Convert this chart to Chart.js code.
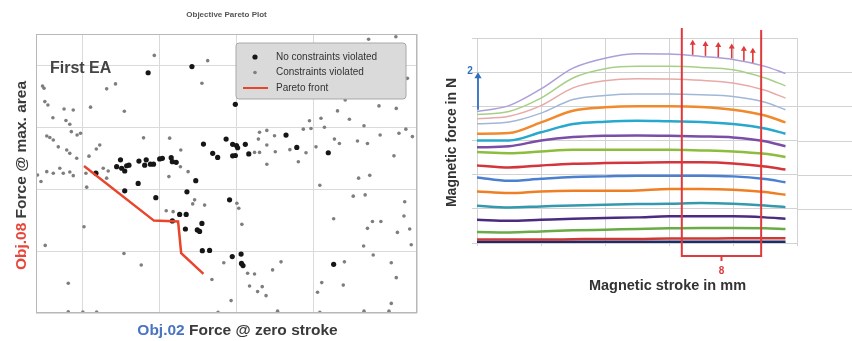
<!DOCTYPE html>
<html>
<head>
<meta charset="utf-8">
<script src="https://cdn.jsdelivr.net/npm/chart.js@4.4.1/dist/chart.umd.min.js"></script>
<style>
html, body { margin: 0; padding: 0; background: #fff; }
#wrap { position: relative; width: 852px; height: 341px; overflow: hidden; }
#left { position: absolute; left: 0; top: 0; }
#right { position: absolute; left: 430px; top: 0; }
</style>
</head>
<body>
<div id="wrap">
  <canvas id="left" width="430" height="341"></canvas>
  <canvas id="right" width="422" height="341"></canvas>
</div>
<script>
// ---- left: objective pareto plot ----
const okX = [37.0, 48.4, 59.7, 51.4, 57.3, 59.0, 60.0, 60.3, 62.3, 53.8, 55.1, 59.0, 59.7, 63.2, 72.9, 75.7, 83.9, 85.3, 23.4,
  29.8, 28.8, 30.1, 30.9, 31.4, 32.0, 34.6, 36.5, 36.1, 37.6, 38.4, 40.0, 40.7, 43.0, 43.3, 44.3, 34.4, 30.9, 39.0, 47.1, 49.4,
  45.2, 46.9, 43.3, 46.7, 49.8, 50.4, 51.0, 51.1, 53.0, 58.2, 58.9, 61.2, 61.3, 61.7];
const okY = [77.5, 79.5, 67.3, 54.5, 56.1, 54.4, 54.0, 53.3, 54.4, 51.5, 50.2, 50.7, 50.8, 51.3, 57.4, 53.4, 51.7, 15.7, 45.1,
  49.4, 47.2, 46.7, 45.8, 47.5, 47.7, 49.0, 49.4, 47.7, 48.0, 48.0, 49.7, 49.9, 50.1, 48.8, 48.6, 41.8, 39.4, 37.2, 39.1, 42.7,
  31.8, 31.8, 29.7, 27.1, 26.8, 26.3, 28.9, 20.1, 20.2, 36.5, 18.2, 19.0, 16.0, 15.3];

const violX = [9.5, 9.9, 10.1, 10.9, 12.2, 15.1, 17.5, 15.6, 16.6, 17.0, 18.5, 19.4, 22.0, 26.2, 28.5, 30.8, 38.6, 52.5, 51.0,
  10.6, 11.4, 12.3, 13.6, 15.8, 16.6, 18.4, 21.6, 24.4, 35.8, 42.6, 8.2, 10.6, 12.3, 14.0, 14.9, 16.6, 17.5, 9.1, 21.0, 20.3,
  10.2, 16.2, 16.2, 20.0, 23.6, 30.7, 35.2, 25.3, 26.6, 41.7, 43.5, 45.4, 42.4, 48.6, 51.7, 49.1, 60.1, 60.6, 61.4, 53.6,
  56.7, 58.6, 55.2, 62.9, 64.7, 63.4, 66.7, 65.5, 67.7, 69.4, 71.6, 70.7, 81.7, 81.1, 82.2, 87.8, 88.1, 85.3, 93.2, 99.7,
  100.3, 101.6, 100.3, 95.6, 93.1, 94.1, 95.4, 97.6, 101.9, 103.6, 105.1, 105.5, 103.8, 90.4, 93.5, 91.8, 94.7, 81.7, 101.0,
  94.4, 101.5, 104.5, 88.3, 97.1, 101.6, 86.3, 89.4, 82.0, 79.0, 93.2, 82.9, 79.4, 77.4, 104.1, 102.3, 105.8, 97.4, 85.5,
  86.8, 91.5, 94.1, 80.7, 78.1, 66.0, 67.9, 69.9, 65.7, 67.9, 70.1, 73.9, 67.9, 76.1, 64.7, 66.0, 20.8, 23.5, 45.5, 47.4, 26.2];
const violY = [73.2, 72.5, 68.2, 67.1, 63.0, 65.8, 65.5, 62.1, 60.9, 58.5, 57.4, 58.0, 66.4, 72.3, 73.9, 65.1, 83.1, 81.4, 74.1,
  57.1, 56.6, 55.8, 53.6, 52.6, 51.5, 49.9, 50.6, 54.2, 56.5, 56.4, 44.5, 45.6, 45.1, 46.7, 45.1, 45.5, 44.3, 42.4, 40.6, 27.8,
  21.8, 9.6, 0.4, 0.3, 0.3, 19.2, 15.5, 46.7, 45.8, 33.0, 32.7, 47.2, 44.0, 35.2, 34.8, 36.5, 35.4, 33.8, 28.6, 10.8,
  16.2, 4.0, 0.2, 12.8, 12.6, 8.7, 8.5, 6.9, 5.6, 13.9, 16.5, 0.6, 0.2, 6.7, 9.8, 9.0, 16.5, 30.4, 0.6, 0.6,
  3.1, 11.4, 16.2, 18.7, 21.6, 27.3, 29.5, 29.5, 26.0, 31.3, 27.1, 22.0, 35.9, 37.7, 38.1, 43.5, 44.4, 41.2, 50.7,
  88.3, 89.1, 75.7, 68.7, 66.8, 66.0, 65.2, 62.5, 62.8, 62.0, 60.4, 59.9, 59.5, 59.3, 59.3, 58.0, 56.9, 57.4, 56.1,
  54.7, 55.5, 54.7, 53.6, 51.7, 58.3, 58.9, 57.2, 56.1, 54.2, 52.0, 52.7, 48.0, 48.8, 51.8, 51.8, 45.1, 52.9, 52.6, 45.6, 43.5];

const paretoX = [20.3, 38.5, 44.8, 45.6, 51.4];
const paretoY = [47.4, 29.8, 29.5, 19.3, 12.6];

// ---- right: force over stroke ----
const strokeX = [0, 0.5, 1, 1.5, 2, 2.5, 3, 3.5, 4, 4.5, 4.82];
const forceCurves = [
  [3.85, 4.02, 4.51, 5.12, 5.41, 5.54, 5.53, 5.46, 5.37, 5.17, 4.96],
  [3.76, 3.85, 4.24, 4.83, 5.10, 5.17, 5.17, 5.14, 5.07, 4.83, 4.60],
  [3.64, 3.71, 4.02, 4.54, 4.75, 4.81, 4.80, 4.76, 4.68, 4.47, 4.24],
  [3.49, 3.54, 3.80, 4.20, 4.32, 4.36, 4.36, 4.34, 4.29, 4.12, 3.90],
  [3.20, 3.22, 3.53, 3.87, 3.97, 4.00, 4.00, 3.98, 3.90, 3.73, 3.53],
  [3.00, 3.00, 3.24, 3.48, 3.55, 3.58, 3.56, 3.54, 3.48, 3.35, 3.20],
  [2.80, 2.83, 3.00, 3.10, 3.14, 3.15, 3.14, 3.12, 3.09, 2.98, 2.83],
  [2.66, 2.63, 2.68, 2.73, 2.73, 2.73, 2.73, 2.71, 2.68, 2.61, 2.52],
  [2.27, 2.21, 2.27, 2.32, 2.34, 2.35, 2.36, 2.36, 2.33, 2.24, 2.15],
  [1.92, 1.82, 1.88, 1.93, 1.95, 1.97, 1.97, 1.97, 1.95, 1.87, 1.78],
  [1.51, 1.46, 1.51, 1.53, 1.53, 1.54, 1.58, 1.58, 1.56, 1.49, 1.41],
  [1.09, 1.04, 1.07, 1.10, 1.12, 1.14, 1.15, 1.17, 1.15, 1.10, 1.05],
  [0.68, 0.65, 0.68, 0.71, 0.73, 0.75, 0.78, 0.78, 0.78, 0.75, 0.71],
  [0.32, 0.31, 0.34, 0.37, 0.39, 0.41, 0.43, 0.44, 0.44, 0.43, 0.41],
  [0.10, 0.10, 0.10, 0.11, 0.12, 0.12, 0.13, 0.13, 0.14, 0.14, 0.14],
  [0.04, 0.04, 0.04, 0.04, 0.04, 0.04, 0.04, 0.04, 0.04, 0.04, 0.04],
  [0.00, 0.00, 0.00, 0.00, 0.00, 0.00, 0.00, 0.00, 0.00, 0.00, 0.00]
];
const curveColors = ['#ab9fd8', '#a8cf86', '#e8a9a9', '#a2b7d6', '#f08a2c', '#27a8cc', '#7a4ea6', '#8cbd3c',
  '#d2353a', '#4a80cf', '#ee7f24', '#3599ad', '#4a2b80', '#6aab45', '#cc3a36', '#1f2a68', '#5b9be0'];
const curveWidths = [1.5, 1.5, 1.5, 1.5, 2.5, 2.5, 2.5, 2.5, 2.5, 2.5, 2.5, 2.5, 2.5, 2.5, 2.5, 2.5, 2];
const arrowX = [3.37, 3.57, 3.77, 3.98, 4.17, 4.31];

const FONT = '"Liberation Sans", Arial, sans-serif';

function drawMixed(ctx, parts, cx, cy, rotate) {
  ctx.save();
  ctx.translate(cx, cy);
  if (rotate) ctx.rotate(-Math.PI / 2);
  ctx.textBaseline = 'middle';
  ctx.textAlign = 'left';
  const total = parts.reduce((s, p) => s + ctx.measureText(p[0]).width, 0);
  let x = -total / 2;
  parts.forEach(p => {
    ctx.fillStyle = p[1];
    ctx.fillText(p[0], x, 0);
    x += ctx.measureText(p[0]).width;
  });
  ctx.restore();
}

const paretoOverlay = {
  id: 'paretoOverlay',
  afterDraw(chart) {
    const { ctx, chartArea: a } = chart;
    ctx.save();
    ctx.strokeStyle = '#b8b8b8';
    ctx.lineWidth = 1;
    ctx.strokeRect(a.left + 0.5, a.top + 0.5, a.width - 1, a.height - 1);

    ctx.fillStyle = '#555';
    ctx.font = 'bold 8px ' + FONT;
    ctx.textAlign = 'center';
    ctx.textBaseline = 'middle';
    ctx.fillText('Objective Pareto Plot', (a.left + a.right) / 2, a.top - 19);

    ctx.fillStyle = '#444';
    ctx.font = 'bold 16px ' + FONT;
    ctx.textAlign = 'left';
    ctx.fillText('First EA', a.left + 14, a.top + 35);

    ctx.font = 'bold 15.5px ' + FONT;
    drawMixed(ctx, [['Obj.02', '#4a74c0'], [' Force @ zero stroke', '#3a3a3a']], (a.left + a.right) / 2 + 11, a.bottom + 18, false);
    drawMixed(ctx, [['Obj.08', '#e5483a'], [' Force @ max. area', '#3a3a3a']], a.left - 14, (a.top + a.bottom) / 2 + 2, true);

    // legend box
    const lx = a.right - 181, ly = a.top + 9, lw = 170, lh = 56;
    ctx.fillStyle = '#dadada';
    ctx.strokeStyle = '#a8a8a8';
    ctx.beginPath();
    ctx.roundRect(lx, ly, lw, lh, 3);
    ctx.fill();
    ctx.stroke();
    const ds = chart.data.datasets;
    ctx.font = '10px ' + FONT;
    ctx.textBaseline = 'middle';
    [0, 1, 2].forEach(i => {
      const y = ly + 14 + i * 15.5;
      const d = ds[i];
      if (d.showLine) {
        ctx.strokeStyle = d.borderColor;
        ctx.lineWidth = 2;
        ctx.beginPath();
        ctx.moveTo(lx + 7, y);
        ctx.lineTo(lx + 32, y);
        ctx.stroke();
      } else {
        ctx.fillStyle = d.backgroundColor;
        ctx.beginPath();
        ctx.arc(lx + 19, y, d.pointRadius, 0, Math.PI * 2);
        ctx.fill();
      }
      ctx.fillStyle = '#333';
      ctx.fillText(d.label, lx + 40, y);
    });
    ctx.restore();
  }
};

new Chart(document.getElementById('left').getContext('2d'), {
  type: 'scatter',
  data: {
    datasets: [
      { label: 'No constraints violated', data: okX.map((x, i) => ({ x, y: okY[i] })),
        backgroundColor: '#161616', borderWidth: 0, pointRadius: 2.6, order: 1 },
      { label: 'Constraints violated', data: violX.map((x, i) => ({ x, y: violY[i] })),
        backgroundColor: '#7e7e7e', borderWidth: 0, pointRadius: 1.8, order: 2 },
      { label: 'Pareto front', data: paretoX.map((x, i) => ({ x, y: paretoY[i] })),
        showLine: true, borderColor: '#e8452c', borderWidth: 2.5, pointRadius: 0, order: 0 }
    ]
  },
  options: {
    animation: false,
    responsive: false,
    layout: { padding: { left: 36, right: 13, top: 34, bottom: 28 } },
    plugins: { legend: { display: false }, tooltip: { enabled: false } },
    scales: {
      x: { type: 'linear', min: 7.8, max: 107, ticks: { display: false, stepSize: 20 },
        grid: { color: '#dadada', drawTicks: false }, border: { display: false } },
      y: { type: 'linear', min: 0, max: 90, ticks: { display: false, stepSize: 20 },
        grid: { color: '#dadada', drawTicks: false }, border: { display: false } }
    }
  },
  plugins: [paretoOverlay]
});

// ---- right chart overlay ----
function lavenderAt(x) {
  const c = forceCurves[0];
  for (let i = 0; i < strokeX.length - 1; i++) {
    if (x >= strokeX[i] && x <= strokeX[i + 1]) {
      const t = (x - strokeX[i]) / (strokeX[i + 1] - strokeX[i]);
      return c[i] + t * (c[i + 1] - c[i]);
    }
  }
  return c[c.length - 1];
}

function arrowHead(ctx, x, y, size) {
  ctx.beginPath();
  ctx.moveTo(x, y);
  ctx.lineTo(x - size * 0.6, y + size);
  ctx.lineTo(x + size * 0.6, y + size);
  ctx.closePath();
  ctx.fill();
}

const strokeOverlay = {
  id: 'strokeOverlay',
  beforeDatasetsDraw(chart) {
    const { ctx, chartArea: a, scales } = chart;
    ctx.save();
    ctx.strokeStyle = '#d2d2d2';
    ctx.lineWidth = 1;
    [1, 2, 3, 4, 5].forEach(v => {
      const y = Math.round(scales.y.getPixelForValue(v)) + 0.5;
      ctx.beginPath();
      ctx.moveTo(a.right, y);
      ctx.lineTo(chart.width, y);
      ctx.stroke();
    });
    ctx.restore();
  },
  afterDraw(chart) {
    const { ctx, chartArea: a, scales } = chart;
    const sx = scales.x, sy = scales.y;
    ctx.save();

    // red bracket
    const red = '#e0393b';
    const bx1 = sx.getPixelForValue(3.2), bx2 = sx.getPixelForValue(4.44);
    const bb = a.bottom + 13;
    ctx.strokeStyle = red;
    ctx.lineWidth = 2;
    ctx.beginPath();
    ctx.moveTo(bx1, a.top - 10);
    ctx.lineTo(bx1, bb);
    ctx.lineTo(bx2, bb);
    ctx.lineTo(bx2, a.top - 8);
    ctx.stroke();
    const bc = (bx1 + bx2) / 2;
    ctx.beginPath();
    ctx.moveTo(bc, bb);
    ctx.lineTo(bc, bb + 5);
    ctx.stroke();
    ctx.fillStyle = red;
    ctx.font = 'bold 10px ' + FONT;
    ctx.textAlign = 'center';
    ctx.textBaseline = 'middle';
    ctx.fillText('8', bc, bb + 15);

    // red arrows on the top curve
    ctx.lineWidth = 1.6;
    arrowX.forEach(v => {
      const x = sx.getPixelForValue(v);
      const base = sy.getPixelForValue(lavenderAt(v)) - 1;
      const tip = base - 15;
      ctx.beginPath();
      ctx.moveTo(x, base);
      ctx.lineTo(x, tip + 4);
      ctx.stroke();
      arrowHead(ctx, x, tip, 5);
    });

    // blue arrow
    const blue = '#2f6fbf';
    const ax = sx.getPixelForValue(0) + 1;
    const ay1 = sy.getPixelForValue(3.9), ay2 = sy.getPixelForValue(5.0);
    ctx.strokeStyle = blue;
    ctx.fillStyle = blue;
    ctx.lineWidth = 1.8;
    ctx.beginPath();
    ctx.moveTo(ax, ay1);
    ctx.lineTo(ax, ay2 + 5);
    ctx.stroke();
    arrowHead(ctx, ax, ay2, 6);
    ctx.font = 'bold 10px ' + FONT;
    ctx.fillText('2', ax - 8, ay2 - 1);

    // axis titles
    ctx.font = 'bold 14.5px ' + FONT;
    drawMixed(ctx, [['Magnetic stroke in mm', '#333']], bc - 54, a.bottom + 43, false);
    ctx.font = 'bold 14px ' + FONT;
    drawMixed(ctx, [['Magnetic force in N', '#333']], a.left - 25, (a.top + a.bottom) / 2 + 2, true);
    ctx.restore();
  }
};

new Chart(document.getElementById('right').getContext('2d'), {
  type: 'line',
  data: {
    datasets: forceCurves.map((c, k) => ({
      label: 'curve ' + (k + 1),
      data: strokeX.map((x, i) => ({ x, y: c[i] })),
      borderColor: curveColors[k],
      borderWidth: curveWidths[k],
      pointRadius: 0,
      cubicInterpolationMode: 'monotone',
      fill: false
    }))
  },
  options: {
    animation: false,
    responsive: false,
    layout: { padding: { left: 42, right: 55, top: 38, bottom: 95 } },
    plugins: { legend: { display: false }, tooltip: { enabled: false } },
    scales: {
      x: { type: 'linear', min: 0, max: 5, ticks: { display: false, stepSize: 1 },
        grid: { color: '#d2d2d2', drawTicks: true, tickLength: 3 }, border: { display: false } },
      y: { type: 'linear', min: 0, max: 6, ticks: { display: false, stepSize: 1 },
        grid: { color: '#d2d2d2', drawTicks: true, tickLength: 5 }, border: { display: false } }
    }
  },
  plugins: [strokeOverlay]
});
</script>
</body>
</html>
